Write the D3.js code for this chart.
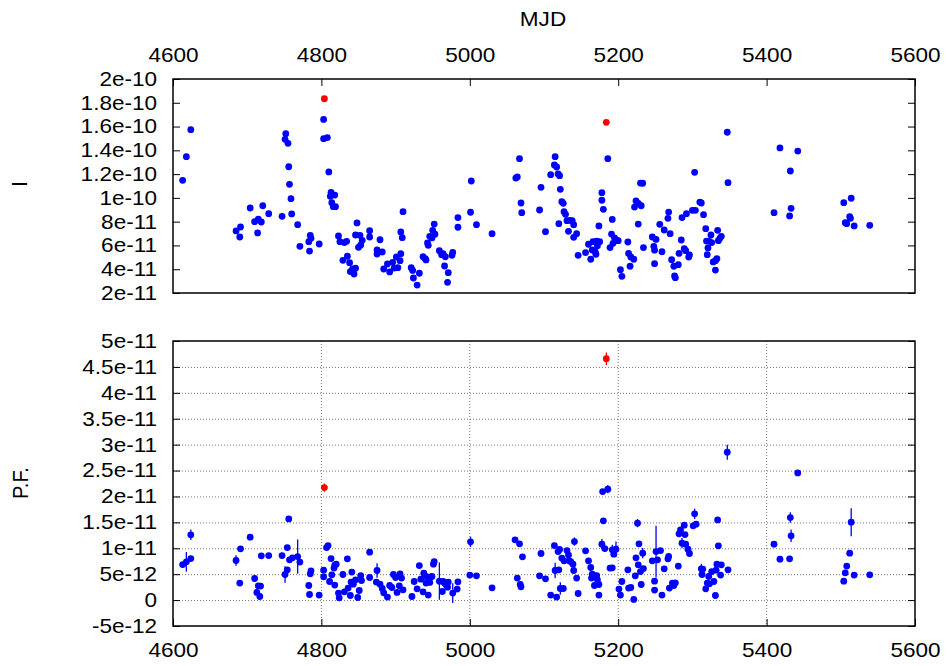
<!DOCTYPE html>
<html>
<head>
<meta charset="utf-8">
<script src="https://cdn.jsdelivr.net/npm/d3@7"></script>
<style>
  html, body { margin: 0; padding: 0; background: #fff; }
  svg { display: block; }
</style>
</head>
<body>
<svg id="chart" width="950" height="666"></svg>
<script>
// ---------------- DATA ----------------
// x ticks (MJD)
const xTicks = [4600, 4800, 5000, 5200, 5400, 5600];
// top panel: intensity, values in units of 1e-11
const iTicks = [2, 4, 6, 8, 10, 12, 14, 16, 18, 20];
const iTickLabels = ["2e-11","4e-11","6e-11","8e-11","1e-10","1.2e-10","1.4e-10","1.6e-10","1.8e-10","2e-10"];
// bottom panel: pulsed flux, values in units of 1e-12
const pfTicks = [-5, 0, 5, 10, 15, 20, 25, 30, 35, 40, 45, 50];
const pfTickLabels = ["-5e-12","0","5e-12","1e-11","1.5e-11","2e-11","2.5e-11","3e-11","3.5e-11","4e-11","4.5e-11","5e-11"];

// [MJD, I (1e-11)]
const intensity = [
[4613,11.48],[4618,13.47],[4624,15.74],[4685,7.22],[4691,7.55],[4690,6.71],[4704,9.15],[4710,8.0],
[4714,7.05],[4715,8.22],[4719,7.97],[4721,9.34],[4729,8.67],[4747,8.45],[4752,15.4],[4751,14.93],
[4755,14.59],[4756,12.62],[4757,11.14],[4759,9.93],[4760,8.65],[4768,7.75],[4771,5.93],[4783,6.32],
[4785,6.85],[4786,6.6],[4784,5.53],[4797,6.12],[4803,16.6],[4803,14.98],[4808,15.07],[4810,12.18],
[4813,10.47],[4812,10.13],[4818,10.24],[4814,9.6],[4816,9.26],[4819,9.26],[4823,6.8],[4825,6.32],
[4831,6.24],[4834,6.35],[4829,4.75],[4835,5.09],[4838,4.55],[4839,3.8],[4842,4.02],[4844,3.6],
[4846,4.08],[4848,7.89],[4846,6.88],[4852,6.85],[4855,6.43],[4850,5.84],[4853,6.04],[4865,7.24],
[4865,6.71],[4879,6.48],[4875,5.62],[4875,5.28],[4882,5.45],[4884,4.02],[4889,4.44],[4892,3.77],
[4896,4.58],[4898,4.1],[4901,5.03],[4903,4.13],[4906,4.72],[4907,5.3],[4907,7.13],[4909,6.65],
[4910,8.84],[4921,4.13],[4923,3.9],[4924,3.26],[4929,2.67],[4932,3.66],
[4937,5.05],[4940,4.89],[4941,4.78],[4943,6.21],[4944,6.01],[4946,6.77],[4949,6.63],[4950,7.27],
[4952,7.8],[4953,6.94],[4959,5.56],[4962,5.22],[4964,5.3],[4967,5.05],[4966,4.27],[4971,3.71],
[4970,2.9],[4976,5.17],[4977,5.42],[4984,8.34],[4984,7.53],[5001,8.79],[5002,11.42],[5009,7.75],
[5030,6.99],[5062,11.67],[5064,11.76],[5067,13.3],[5069,9.57],[5070,8.76],[5094,8.98],[5096,10.89],
[5102,7.16],[5109,11.95],[5114,12.77],[5115,13.47],[5117,12.6],[5119,12.01],[5121,11.87],[5122,10.72],
[5124,9.68],[5126,9.54],[5127,8.84],[5129,8.62],[5131,8.08],[5135,8.11],[5138,8.08],[5140,7.75],
[5120,7.83],[5133,7.19],[5144,6.99],[5140,6.68],[5146,5.17],[5156,5.39],[5160,6.1],[5163,4.84],
[5165,5.62],[5166,6.32],[5169,5.47],[5171,6.37],[5170,5.25],[5172,5.98],[5174,7.64],[5175,6.32],
[5178,10.44],[5178,9.8],[5180,9.04],[5186,13.3],[5189,5.82],[5192,8.19],[5191,6.96],[5193,6.18],
[5195,6.63],[5197,6.46],[5200,6.4],[5203,3.96],[5205,3.4],[5213,6.29],[5214,5.33],[5217,5.03],
[5221,4.84],[5216,4.25],[5222,9.23],[5224,9.74],[5227,9.54],[5230,11.25],[5233,11.23],[5231,9.34],
[5227,7.8],[5234,5.82],[5246,6.71],[5251,6.51],[5248,5.93],[5249,5.6],[5249,4.47],[5259,5.47],
[5256,7.78],[5262,7.3],
[5268,8.81],[5267,8.28],[5270,6.99],[5272,4.8],[5275,4.25],[5276,3.43],[5277,3.29],[5281,4.38],
[5282,5.33],[5285,6.46],[5286,8.34],[5289,5.73],[5291,5.56],[5292,8.67],[5295,5.03],[5296,5.2],
[5300,8.95],[5304,8.95],[5303,12.15],[5310,9.65],[5312,9.57],[5315,8.59],[5318,7.41],[5325,6.88],
[5319,6.37],[5322,6.37],[5326,6.24],[5321,5.79],[5320,5.22],[5328,4.61],[5331,4.72],[5333,4.89],
[5331,3.93],[5334,7.27],[5335,6.4],[5337,6.6],[5339,6.77],[5347,15.52],[5348,11.28],[5410,8.76],
[5418,14.2],[5442,13.94],[5432,12.26],[5433,9.12],[5431,8.48],[5504,9.6],[5514,9.97],[5512,8.42],
[5513,8.28],[5506,7.91],[5508,7.83],[5518,7.64],[5539,7.69]
];
// flare points (red) in top panel
const intensityFlares = [[4804,18.34],[5184,16.36]];

// [MJD, P.F. (1e-12), error (1e-12)]
const pulsedFlux = [
[4613,6.86,0.4],[4618,7.38,1.9],[4624,8.02,0.4],[4624,12.6,1.0],[4685,7.64,1.0],[4691,9.89,0.4],
[4690,3.28,0.4],[4704,12.15,0.4],[4710,4.17,0.4],[4713,1.47,0.4],[4715,2.76,0.4],[4718,2.7,0.4],
[4717,0.69,0.4],[4719,8.54,0.4],[4729,8.6,0.4],[4747,8.6,0.4],[4751,4.94,1.6],[4754,5.84,0.4],
[4756,15.67,0.4],[4754,10.14,0.4],[4757,7.77,0.4],[4761,8.15,0.4],[4768,8.4,3.3],[4771,7.33,0.4],
[4783,2.82,0.4],[4784,1.08,0.4],[4785,5.07,0.4],[4786,5.65,0.4],[4797,0.96,0.4],[4803,5.78,0.4],
[4803,4.49,0.4],[4807,10.14,0.4],[4809,10.53,0.4],[4811,3.59,0.4],[4813,8.02,0.4],[4814,4.88,0.4],
[4817,6.17,0.4],[4818,6.75,0.4],[4820,6.94,0.4],[4818,2.89,0.4],[4823,1.35,0.4],[4824,0.44,0.4],
[4829,4.94,0.4],[4831,1.6,0.4],[4835,7.96,0.4],[4836,2.31,0.4],[4839,0.89,0.4],[4841,5.4,0.4],
[4840,3.47,0.4],[4843,3.08,0.4],[4846,3.91,0.4],[4849,0.5,0.4],[4851,1.85,0.4],[4853,4.74,0.4],
[4854,3.78,0.4],[4865,9.25,0.4],[4865,4.36,0.4],[4875,5.71,1.4],[4874,3.47,0.4],[4879,3.08,0.4],
[4882,2.24,0.4],[4884,1.41,0.4],[4889,0.58,0.4],[4892,2.82,0.4],[4895,2.43,0.4],[4897,4.94,0.4],
[4900,4.36,0.4],[4902,1.47,0.4],[4905,2.76,0.4],[4906,5.07,0.4],[4908,4.24,0.4],[4910,1.99,0.4],
[4922,0.69,0.4],[4925,3.59,0.4],[4929,2.18,0.4],[4932,6.67,0.4],
[4934,4.04,0.4],[4937,1.6,0.4],[4938,5.2,0.4],[4941,4.55,0.4],[4941,3.28,0.4],[4944,0.96,0.4],
[4945,4.24,0.4],[4946,3.4,0.4],[4947,4.43,0.4],[4949,4.55,0.4],[4951,6.94,0.4],[4952,7.44,0.4],
[4959,3.66,3.6],[4963,1.66,0.4],[4964,3.59,0.4],[4966,3.28,0.4],[4968,2.95,0.4],[4970,2.5,0.4],
[4971,3.47,0.4],[4977,1.35,1.9],[4983,2.12,0.4],[4984,3.53,0.4],[5001,11.24,1.0],[5000,4.82,0.4],
[5009,4.69,0.4],[5030,2.37,0.4],[5061,11.63,0.4],[5067,10.85,0.4],[5071,8.35,0.4],[5064,4.24,0.4],
[5068,3.01,0.4],[5069,2.56,0.4],[5094,4.69,0.4],[5096,8.99,0.4],[5102,4.11,0.4],[5109,0.96,0.4],
[5114,10.53,0.4],[5115,5.71,1.5],[5117,0.58,0.4],[5119,9.37,0.4],[5121,9.76,0.4],[5120,5.84,0.4],
[5122,2.24,1.2],[5126,2.24,0.4],[5124,8.1,0.4],[5127,7.58,0.4],[5131,9.56,0.4],[5133,8.68,0.4],
[5134,7.58,0.4],[5136,7.44,0.4],[5139,6.94,0.4],[5140,5.71,0.4],[5141,11.3,0.8],[5144,4.24,0.4],
[5146,1.27,0.4],[5156,9.5,0.4],[5160,7.58,0.4],[5163,6.29,0.4],[5165,5.01,0.4],[5164,4.24,0.4],
[5166,4.55,0.4],[5168,2.82,0.4],[5169,4.69,0.4],[5171,4.74,0.4],[5172,3.91,0.4],[5174,3.01,0.4],
[5174,0.96,0.4],[5178,10.8,1.0],[5179,20.94,0.4],[5180,15.29,0.4],[5182,9.95,0.4],[5186,21.4,0.8],
[5189,6.17,0.4],[5192,6.23,0.4],[5192,9.7,1.0],[5194,8.87,0.4],[5197,9.83,1.5],[5201,2.12,0.4],
[5203,0.96,0.4],[5205,3.59,0.4],[5213,5.84,0.4],[5214,2.31,0.4],[5217,2.43,0.4],[5221,0.12,0.4],
[5223,4.69,0.4],[5224,8.15,0.4],[5226,14.85,0.8],[5227,6.81,0.4],[5228,10.85,0.4],[5230,5.51,0.4],
[5231,3.01,0.4],[5233,9.06,1.0],[5234,6.09,0.4],[5246,7.58,0.4],[5249,3.66,0.4],[5249,1.93,0.4],
[5251,9.37,5.0],[5253,7.77,0.4],[5257,9.56,0.4],[5259,0.96,0.4],[5262,6.03,0.4],
[5267,7.96,0.4],[5268,8.41,0.4],[5269,2.31,0.4],[5273,3.28,0.4],[5275,2.82,0.4],[5277,3.33,0.4],
[5281,6.56,0.4],[5282,12.78,0.4],[5284,13.55,0.4],[5286,10.99,1.0],[5290,12.65,0.4],[5289,14.46,0.4],
[5291,10.8,0.4],[5294,9.83,0.4],[5296,8.99,0.4],[5301,14.33,0.4],[5305,14.65,0.4],[5303,16.64,1.0],
[5312,6.03,1.0],[5314,5.98,0.4],[5313,4.94,0.4],[5318,2.18,0.4],[5320,3.28,0.4],[5322,4.55,0.4],
[5323,3.14,0.4],[5326,5.51,0.4],[5329,3.59,0.4],[5331,0.89,0.4],[5332,5.78,0.4],[5333,6.94,0.4],
[5334,15.48,0.4],[5335,10.47,0.4],[5338,4.82,0.4],[5339,6.81,0.4],[5348,5.84,0.4],[5347,28.53,1.45],
[5410,10.8,0.4],[5418,7.9,0.4],[5442,24.54,0.4],[5432,15.93,1.0],[5433,12.4,1.2],[5431,7.96,0.4],
[5504,3.66,0.4],[5506,5.26,0.4],[5508,6.56,0.4],[5512,9.06,0.4],[5514,15.04,2.7],[5518,4.82,0.4],
[5539,4.88,0.4]
];
// flare points (red) in bottom panel
const pulsedFlares = [[4804,21.71,0.8],[5184,46.58,1.2]];

// ---------------- LAYOUT ----------------
const L = 173, R = 915;
const topT = 79, topB = 293, botT = 341, botB = 626;
const FONT = "'Liberation Sans', Arial, Helvetica, sans-serif";
const FS = 20, SX = 1.13; // font size and horizontal stretch of text
const BLUE = "#0000ff", RED = "#ff0000";

const svg = d3.select("#chart");
svg.append("rect").attr("width", 950).attr("height", 666).attr("fill", "#fff");

const x = d3.scaleLinear().domain([4600, 5600]).range([L, R]);
const yI = d3.scaleLinear().domain([2, 20]).range([topB, topT]);
const yP = d3.scaleLinear().domain([-5, 50]).range([botB, botT]);

function styleAxis(g) {
  g.select(".domain").remove();
  g.selectAll(".tick line").attr("stroke", "#000").attr("stroke-width", 1);
  g.selectAll("text")
    .attr("fill", "#000")
    .style("font-family", FONT)
    .style("font-size", FS + "px")
    .attr("transform", `scale(${SX},1)`);
}

// ---------- Bottom panel grid ----------
const grid = svg.append("g");
grid.selectAll("line.vg").data(xTicks.slice(1, -1)).join("line")
  .attr("x1", d => x(d)).attr("x2", d => x(d))
  .attr("y1", botT).attr("y2", botB)
  .attr("stroke", "#777").attr("stroke-width", 1).attr("stroke-dasharray", "1,2");
grid.selectAll("line.hg").data(pfTicks.slice(1, -1)).join("line")
  .attr("x1", L).attr("x2", R)
  .attr("y1", d => yP(d) + 0.5).attr("y2", d => yP(d) + 0.5)
  .attr("stroke", "#777").attr("stroke-width", 1).attr("stroke-dasharray", "1,2");

// ---------- Axes: top panel ----------
svg.append("g").attr("transform", `translate(${L},0)`)
  .call(d3.axisLeft(yI).tickValues(iTicks).tickFormat((d, i) => iTickLabels[i])
    .tickSize(-7).tickSizeOuter(0).tickPadding(14))
  .call(styleAxis);
svg.append("g").attr("transform", `translate(${R},0)`)
  .call(d3.axisRight(yI).tickValues(iTicks).tickFormat("").tickSize(-7).tickSizeOuter(0))
  .call(styleAxis);
svg.append("g").attr("transform", `translate(0,${topT})`)
  .call(d3.axisTop(x).tickValues(xTicks).tickFormat(d3.format("d"))
    .tickSize(-7).tickSizeOuter(0).tickPadding(17))
  .call(styleAxis);

// ---------- Axes: bottom panel ----------
svg.append("g").attr("transform", `translate(${L},0)`)
  .call(d3.axisLeft(yP).tickValues(pfTicks).tickFormat((d, i) => pfTickLabels[i])
    .tickSize(-7).tickSizeOuter(0).tickPadding(14))
  .call(styleAxis);
svg.append("g").attr("transform", `translate(${R},0)`)
  .call(d3.axisRight(yP).tickValues(pfTicks).tickFormat("").tickSize(-7).tickSizeOuter(0))
  .call(styleAxis);
svg.append("g").attr("transform", `translate(0,${botB})`)
  .call(d3.axisBottom(x).tickValues(xTicks).tickFormat(d3.format("d"))
    .tickSize(-7).tickSizeOuter(0).tickPadding(17))
  .call(styleAxis);

// ---------- Frames ----------
svg.append("rect").attr("x", L).attr("y", topT).attr("width", R - L).attr("height", topB - topT)
  .attr("fill", "none").attr("stroke", "#000").attr("stroke-width", 1.5);
svg.append("rect").attr("x", L).attr("y", botT).attr("width", R - L).attr("height", botB - botT)
  .attr("fill", "none").attr("stroke", "#000").attr("stroke-width", 1.5);

// ---------- Top panel points ----------
const gTop = svg.append("g");
gTop.selectAll("circle.b").data(intensity).join("circle")
  .attr("cx", d => x(d[0])).attr("cy", d => yI(d[1])).attr("r", 3.4).attr("fill", BLUE);
gTop.selectAll("circle.r").data(intensityFlares).join("circle")
  .attr("cx", d => x(d[0])).attr("cy", d => yI(d[1])).attr("r", 3.4).attr("fill", RED);

// ---------- Bottom panel points with error bars ----------
function drawPF(g, data, color) {
  g.selectAll(null).data(data).join("line")
    .attr("x1", d => x(d[0])).attr("x2", d => x(d[0]))
    .attr("y1", d => yP(d[1] - d[2])).attr("y2", d => yP(d[1] + d[2]))
    .attr("stroke", color).attr("stroke-width", 1.3);
  g.selectAll(null).data(data).join("circle")
    .attr("cx", d => x(d[0])).attr("cy", d => yP(d[1])).attr("r", 3.4).attr("fill", color);
}
drawPF(svg.append("g"), pulsedFlux, BLUE);
drawPF(svg.append("g"), pulsedFlares, RED);

// ---------- Axis titles ----------
svg.append("text").attr("transform", `translate(543,26) scale(${SX},1)`)
  .attr("text-anchor", "middle").style("font-family", FONT).style("font-size", FS + "px")
  .text("MJD");
svg.append("text").attr("transform", `translate(27,184) scale(${SX},1) rotate(-90)`)
  .attr("text-anchor", "middle").style("font-family", FONT).style("font-size", FS + "px")
  .text("I");
svg.append("text").attr("transform", `translate(28,483) scale(${SX},1) rotate(-90)`)
  .attr("text-anchor", "middle").style("font-family", FONT).style("font-size", FS + "px")
  .text("P.F.");
</script>
</body>
</html>
